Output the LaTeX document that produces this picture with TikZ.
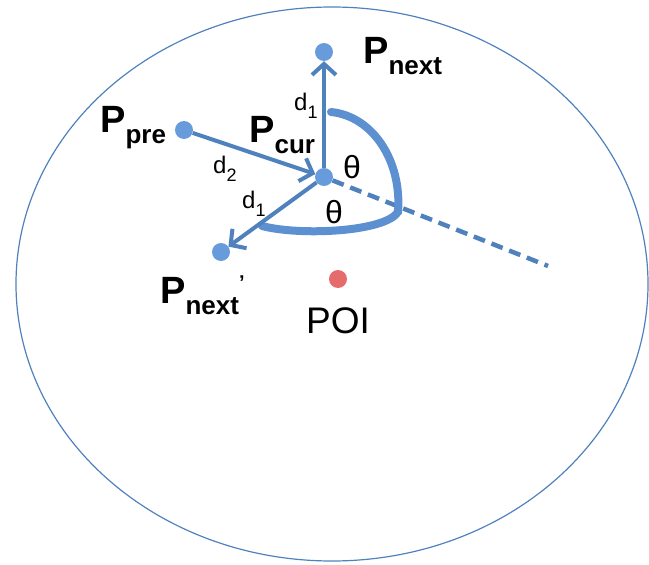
\documentclass[tikz,border=0pt]{standalone}
\usepackage{fontspec}
\setmainfont{Liberation Sans}
\usepackage{tikz}
\usetikzlibrary{shapes.geometric, arrows.meta, positioning}

\definecolor{lineblue}{RGB}{79,129,189}
\definecolor{arcblue}{RGB}{92,144,208}
\definecolor{dotblue}{RGB}{104,155,220}
\definecolor{poired}{RGB}{230,108,108}

\newcommand{\ptname}[2]{\fontsize{38}{38}\selectfont\bfseries P\raisebox{-11pt}{\fontsize{26}{26}\selectfont #1}#2}
\newcommand{\dname}[1]{\fontsize{24}{24}\selectfont d\raisebox{-8pt}{\fontsize{18}{18}\selectfont #1}}

\begin{document}
\begin{tikzpicture}[x=1pt, y=-1pt, every node/.style={inner sep=0pt},
  ptdot/.style={circle, fill=dotblue, minimum size=18pt},
  link/.style={draw=lineblue, line width=4pt, -{Straight Barb[length=11pt, width=24pt]}},
  dashline/.style={draw=lineblue, line width=4.5pt, dash pattern=on 12pt off 7pt},
  arcline/.style={draw=arcblue, line width=8pt, line cap=round},
  lbl/.style={anchor=base west}]
  \useasboundingbox (0,0) rectangle (649,565);
  \node (region) [draw=lineblue, line width=1.2pt, ellipse, minimum width=632pt, minimum height=554pt] at (332,284) {};

  \node (pnext) [ptdot] at (324,52) {};
  \node (ppre) [ptdot] at (184,130) {};
  \node (pcur) [ptdot] at (324,177) {};
  \node (pnextp) [ptdot] at (221,252) {};
  \node (poi) [ptdot, fill=poired] at (338,279) {};
  \coordinate (dashend) at (548,266);
  \coordinate (arctop) at (331,112);
  \coordinate (arcmid) at (398,212);
  \coordinate (arcend) at (262,226);

  \draw [dashline] (pcur) -- (dashend);
  \draw [arcline] (arctop) .. controls (372,116) and (402,160) .. (arcmid)
    .. controls (385,232) and (300,236) .. (arcend);
  \draw [link] (ppre) -- (pcur);
  \draw [link] (pcur) -- (pnext);
  \draw [link] (pcur) -- (pnextp);

  \node (lnext) [lbl] at (363,63) {\ptname{next}{}};
  \node (lpre) [lbl] at (100,132) {\ptname{pre}{}};
  \node (lcur) [lbl] at (249,142) {\ptname{cur}{}};
  \node (lnextp) [lbl] at (160,303) {\ptname{next}{\raisebox{14pt}{\fontsize{20}{20}\selectfont '}}};
  \node (lpoi) [lbl] at (306,333) {\fontsize{37}{37}\selectfont POI};
  \node (dtop) [lbl] at (294,110) {\dname{1}};
  \node (dpre) [lbl] at (213,173) {\dname{2}};
  \node (dlow) [lbl] at (242,208) {\dname{1}};
  \node (thup) [lbl] at (343,178) {\fontsize{32}{32}\selectfont θ};
  \node (thlow) [lbl] at (325,223) {\fontsize{32}{32}\selectfont θ};
\end{tikzpicture}
\end{document}
